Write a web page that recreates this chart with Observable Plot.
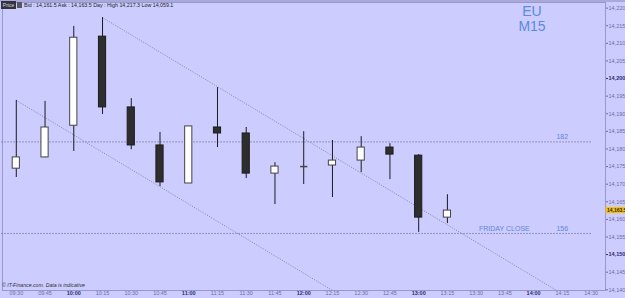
<!DOCTYPE html>
<html>
<head>
<meta charset="utf-8">
<script src="https://cdn.jsdelivr.net/npm/d3@7"></script>
<script src="https://cdn.jsdelivr.net/npm/@observablehq/plot@0.6"></script>
<style>
  html, body { margin: 0; padding: 0; background: #ccccff; overflow: hidden; }
  #wrap { position: relative; width: 625px; height: 298px; font-family: Arial, "Liberation Sans", sans-serif; }
  #topband { position: absolute; left: 0; top: 0; width: 625px; height: 2px; background: #a9a9dc; }
  #pricebox { position: absolute; left: 1px; top: 1px; width: 15px; height: 8px; background: #333340; color: #ddd; font-size: 5px; line-height: 8px; text-align: center; }
  #icon { position: absolute; left: 17px; top: 2px; width: 5px; height: 6px; background: #555566; }
  #header { position: absolute; left: 24px; top: 1px; font-size: 5.3px; line-height: 8px; color: #222; white-space: nowrap; }
  #footer { position: absolute; left: 2px; top: 282px; font-size: 5.2px; color: #333; font-style: italic; white-space: nowrap; }
  #sym { position: absolute; left: 512px; top: 4px; width: 40px; text-align: center; font-size: 14px; line-height: 15px; color: #5a8ae0; }
  svg { position: absolute; left: 0; top: 0; }
</style>
</head>
<body>
<div id="wrap">
  <div id="chart"></div>
  <div id="topband"></div>
  <div id="pricebox">Price</div>
  <div id="icon"></div>
  <div id="header">Bid : 14,161.5 Ask : 14,163.5 Day : High 14,217.3 Low 14,059.1</div>
  <div id="footer">© IT-Finance.com. Data is indicative</div>
  <div id="sym">EU<br>M15</div>
</div>
<script>
// ---- data ----
const times  = ["09:30","09:45","10:00","10:15","10:30","10:45","11:00","11:15","11:30","11:45","12:00","12:15","12:30","12:45","13:00","13:15"];
const opens  = [14174.4,14177.6,14186.6,14211.9,14191.8,14181.0,14170.2,14186.1,14184.4,14173.0,14175.0,14175.3,14176.7,14180.4,14178.1,14160.5];
const highs  = [14193.8,14193.5,14214.8,14217.3,14194.3,14184.7,14186.4,14197.4,14186.1,14176.1,14184.9,14182.4,14183.5,14181.5,14178.4,14167.0];
const lows   = [14171.9,14177.5,14179.3,14189.8,14179.8,14169.3,14170.2,14180.4,14171.6,14164.2,14169.9,14166.2,14173.3,14171.3,14156.3,14158.8];
const closes = [14177.6,14186.1,14211.6,14191.8,14181.0,14170.5,14186.4,14184.4,14173.0,14175.0,14175.0,14176.7,14180.4,14178.4,14160.5,14162.5];

const xTickLabels = ["09:30","09:45","10:00","10:15","10:30","10:45","11:00","11:15","11:30","11:45","12:00","12:15","12:30","12:45","13:00","13:15","13:30","13:45","14:00","14:15","14:30"];
const yTicks = [14140,14145,14150,14155,14160,14165,14170,14175,14180,14185,14190,14195,14200,14205,14210,14215,14220];
const yBoldTicks = [14150,14200];

// horizontal levels
const levelValues = [14182, 14156];
const levelLabels = ["182", "156"];
const fridayClose = 14156;
const fridayLabel = "FRIDAY CLOSE";

// trend lines (bar index, price)
const trendStartIdx   = [0, 3];
const trendStartPrice = [14193.8, 14217.3];
const trendEndIdx     = [11, 18.8];
const trendEndPrice   = [14139.8, 14139.8];

const lastPriceLabel = "14,163.5";
const lastPrice = 14162.5;

// ---- tables built from the arrays ----
const candles = times.map((t, i) => ({i, t, open: opens[i], high: highs[i], low: lows[i], close: closes[i]}));
const dojis = candles.filter(d => d.open === d.close);
const levels = levelValues.map((v, k) => ({value: v, label: levelLabels[k]}));
const trends = trendStartIdx.map((s, k) => ({x1: s, y1: trendStartPrice[k], x2: trendEndIdx[k], y2: trendEndPrice[k]}));
const xIdx = xTickLabels.map((_, i) => i);
const xNormal = xIdx.filter(i => !xTickLabels[i].endsWith(":00"));
const xBold = xIdx.filter(i => xTickLabels[i].endsWith(":00"));
const yNormal = yTicks.filter(v => !yBoldTicks.includes(v));
const fmt = d3.format(",");
const half = 0.125;

const chart = Plot.plot({
  width: 625,
  height: 298,
  marginTop: 2,
  marginBottom: 8,
  marginLeft: 2,
  marginRight: 20,
  style: {background: "transparent", fontFamily: "Arial, 'Liberation Sans', sans-serif", overflow: "visible"},
  x: {domain: [-0.48, 20.5], axis: null},
  y: {domain: [14139.8, 14221.6], axis: null},
  marks: [
    Plot.frame({stroke: "#9898cc"}),
    Plot.ruleY(levels, {y: "value", x1: -0.6, x2: 20.05, stroke: "#5a5a80", strokeDasharray: "1,2"}),
    Plot.text(levels, {y: "value", x: 19.2, text: "label", textAnchor: "end", dy: -5, fill: "#5f86d8", fontSize: 7}),
    Plot.text([fridayClose], {y: d => d, x: 16.1, text: () => fridayLabel, textAnchor: "start", dy: -5, fill: "#5f86d8", fontSize: 7}),
    Plot.link(trends, {x1: "x1", y1: "y1", x2: "x2", y2: "y2", stroke: "#8484ae", strokeDasharray: "1,1.5"}),
    Plot.ruleX(candles, {x: "i", y1: "low", y2: "high", stroke: "#1c1c1c", strokeWidth: 1}),
    Plot.rect(candles, {
      x1: d => d.i - half, x2: d => d.i + half,
      y1: "open", y2: "close",
      fill: d => d.close >= d.open ? "#ffffff" : "#2e2e2e",
      stroke: d => d.close >= d.open ? "#444" : "#1c1c1c",
      strokeWidth: 1
    }),
    Plot.link(dojis, {x1: d => d.i - half, x2: d => d.i + half, y1: "open", y2: "open", stroke: "#444", strokeWidth: 1.5}),
    Plot.axisX(xNormal, {anchor: "bottom", tickSize: 0, tickPadding: 1, fontSize: 5.5, fill: "#6c6ca6", tickFormat: i => xTickLabels[i]}),
    Plot.axisX(xBold, {anchor: "bottom", tickSize: 0, tickPadding: 1, fontSize: 5.5, fontWeight: "bold", fill: "#2a2a72", tickFormat: i => xTickLabels[i]}),
    Plot.axisY(yNormal, {anchor: "right", tickSize: 2, tickPadding: 1, fontSize: 5.5, fill: "#6c6ca6", stroke: "#6c6ca6", tickFormat: fmt}),
    Plot.axisY(yBoldTicks, {anchor: "right", tickSize: 2, tickPadding: 1, fontSize: 5.5, fontWeight: "bold", fill: "#2a2a72", stroke: "#2a2a72", tickFormat: fmt}),
    Plot.rect([lastPrice], {x1: 20.52, x2: 21.2, y1: d => d - 0.9, y2: d => d + 0.9, fill: "#f2c21e"}),
    Plot.text([lastPrice], {x: 20.55, y: d => d, text: () => lastPriceLabel, textAnchor: "start", fontSize: 5, fontWeight: "bold", fill: "#3a2a00"})
  ]
});
document.getElementById("chart").appendChild(chart);
</script>
</body>
</html>
